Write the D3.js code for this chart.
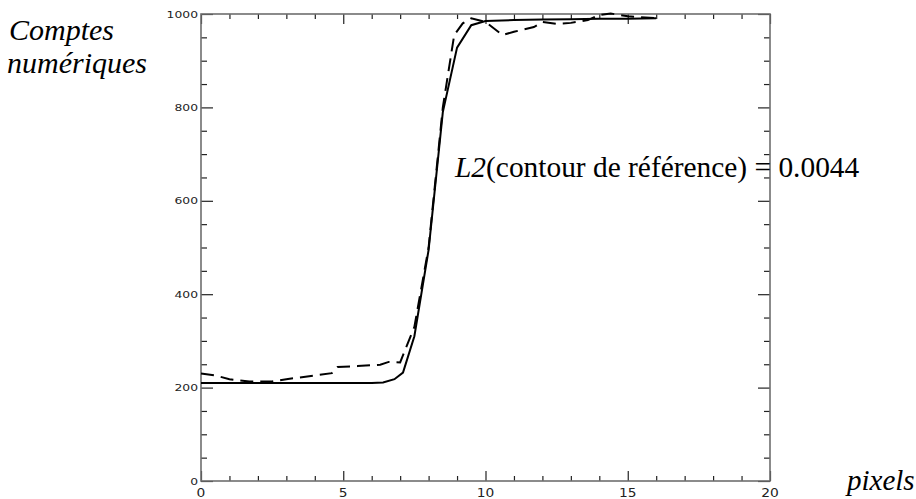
<!DOCTYPE html>
<html><head><meta charset="utf-8">
<script src="https://cdn.jsdelivr.net/npm/d3@7"></script>
<style>html,body{margin:0;padding:0;background:#fff;}</style>
</head><body>
<svg id="c" width="916" height="499"></svg>
<script>
// Data
const solidX = [0, 1, 2, 3, 4, 5, 6, 6.4, 6.8, 7.1, 7.5, 8, 8.5, 9, 9.5, 10, 11, 12, 13, 14, 15, 16];
const solidY = [210, 210, 210, 210, 210, 210, 210, 211, 218, 232, 310, 495, 790, 928, 976, 985, 987, 988, 989, 990, 990, 991];
const dashX = [0, 0.5, 1, 1.7, 2.5, 3, 4, 4.6, 4.8, 5.5, 6.3, 6.6, 7.0, 7.5, 8, 8.5, 8.9, 9.2, 9.5, 10, 10.6, 11, 11.7, 12, 12.5, 13, 13.6, 14, 14.4, 15, 16];
const dashY = [230, 226, 218, 213, 213, 218, 226, 231, 244, 246, 249, 255, 254, 330, 500, 800, 955, 980, 991, 983, 955, 962, 972, 983, 979, 981, 987, 998, 1001, 995, 991];
const xMajor = [0, 5, 10, 15, 20];
const yMajor = [0, 200, 400, 600, 800, 1000];

const svg = d3.select("#c");
const x = d3.scaleLinear().domain([0, 20]).range([201, 770]);
const y = d3.scaleLinear().domain([0, 1000]).range([481, 14]);

const xMinor = d3.range(0, 21, 1).filter(v => v % 5 !== 0);
const yMinor = d3.range(0, 1001, 50).filter(v => v % 200 !== 0);

const axisColor = "#6e6e6e";
function styleAxis(g) {
  g.select(".domain").remove();
  g.selectAll("line").attr("stroke", "#222").attr("stroke-width", 1.2);
  g.selectAll("text").remove();
}
// bottom
svg.append("g").attr("transform", `translate(0,${y(0)})`).call(d3.axisBottom(x).tickValues(xMajor).tickSize(-10)).call(styleAxis);
svg.append("g").attr("transform", `translate(0,${y(0)})`).call(d3.axisBottom(x).tickValues(xMinor).tickSize(-5)).call(styleAxis);
// top
svg.append("g").attr("transform", `translate(0,${y(1000)})`).call(d3.axisTop(x).tickValues(xMajor).tickSize(-10)).call(styleAxis);
svg.append("g").attr("transform", `translate(0,${y(1000)})`).call(d3.axisTop(x).tickValues(xMinor).tickSize(-5)).call(styleAxis);
// left
svg.append("g").attr("transform", `translate(${x(0)},0)`).call(d3.axisLeft(y).tickValues(yMajor).tickSize(-12)).call(styleAxis);
svg.append("g").attr("transform", `translate(${x(0)},0)`).call(d3.axisLeft(y).tickValues(yMinor).tickSize(-6)).call(styleAxis);
// right
svg.append("g").attr("transform", `translate(${x(20)},0)`).call(d3.axisRight(y).tickValues(yMajor).tickSize(-12)).call(styleAxis);
svg.append("g").attr("transform", `translate(${x(20)},0)`).call(d3.axisRight(y).tickValues(yMinor).tickSize(-6)).call(styleAxis);

// frame
svg.append("rect").attr("x", x(0)).attr("y", y(1000)).attr("width", x(20) - x(0)).attr("height", y(0) - y(1000))
  .attr("fill", "none").attr("stroke", axisColor).attr("stroke-width", 1.6);

// tick labels (stretched sans)
svg.append("g").selectAll("text").data(yMajor).join("text")
  .attr("transform", d => `translate(${x(0) - 3},${y(d) + 3.5}) scale(1.3,1)`)
  .attr("text-anchor", "end").style("font-family", "\"DejaVu Sans\"").style("font-size", "9.5px").attr("fill", "#222")
  .text(d => d);
svg.append("g").selectAll("text").data(xMajor).join("text")
  .attr("transform", d => `translate(${x(d)},${y(0) + 16}) scale(1.2,1)`)
  .attr("text-anchor", "middle").style("font-family", "\"DejaVu Sans\"").style("font-size", "11.5px").attr("fill", "#222")
  .text(d => d);

// lines
const line = d3.line().x(d => x(d[0])).y(d => y(d[1]));
svg.append("path").datum(solidX.map((v, i) => [v, solidY[i]])).attr("d", line)
  .attr("fill", "none").attr("stroke", "#000").attr("stroke-width", 2);
svg.append("path").datum(dashX.map((v, i) => [v, dashY[i]])).attr("d", line)
  .attr("fill", "none").attr("stroke", "#000").attr("stroke-width", 2).attr("stroke-dasharray", "13,7");

// titles
const serif = "\"Liberation Serif\"";
const yt = svg.append("text").style("font-family", serif).style("font-style", "italic").style("font-size", "30px").attr("fill", "#000");
yt.append("tspan").attr("x", 9).attr("y", 40).text("Comptes");
yt.append("tspan").attr("x", 7).attr("y", 73).text("numériques");
svg.append("text").attr("x", 847).attr("y", 490).style("font-family", serif).style("font-style", "italic").style("font-size", "29px").text("pixels");

const ann = svg.append("text").attr("x", 455).attr("y", 177).style("font-family", serif).style("font-size", "29.4px").attr("fill", "#000");
ann.append("tspan").style("font-style", "italic").text("L2");
ann.append("tspan").text("(contour de référence) = 0.0044");
</script>
</body></html>
